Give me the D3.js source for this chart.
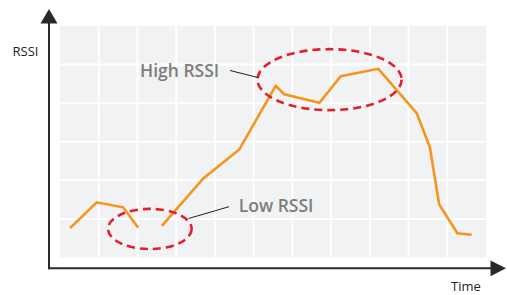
<!DOCTYPE html>
<html>
<head>
<meta charset="utf-8">
<script src="https://cdn.jsdelivr.net/npm/d3@7"></script>
<style>
  body { margin: 0; background: #fff; }
  svg { display: block; }
  text { font-family: "Open Sans", sans-serif; }
</style>
</head>
<body>
<svg width="507" height="295"></svg>
<script>
let width = 507,
    height = 295;

// time (s) and rssi (dBm), null = gap in the trace
let times = [2.6, 9.5, 16.3, 20.2, 23, 26.3, 37, 46.3, 55.7, 57.9, 67, 72.5, 82.2, 92.1, 95.5, 97.9, 102.6, 106.3];
let rssi = [-92.4, -85.7, -87.0, -92.3, null, -91.8, -79.5, -72.0, -55.5, -57.7, -59.9, -53.0, -51.1, -62.6, -71.4, -86.2, -93.7, -94.1];

let gridTimes = [10, 20, 30, 40, 50, 60, 70, 80, 90, 100];
let gridRssi = [-90, -80, -70, -60, -50];

// annotations: centre time, centre rssi, radius in time, radius in dB
let zoneLabels = ["High RSSI", "Low RSSI"];
let zoneTime = [69.6, 23.2];
let zoneRssi = [-53.9, -92.6];
let zoneRx = [18.6, 10.8];
let zoneRy = [7.9, 5.2];

let plotLeft = 60, plotRight = 486, plotTop = 26, plotBottom = 257.5;

let x = d3.scaleLinear().domain([0, 110]).range([plotLeft, plotRight]);
let y = d3.scaleLinear().domain([-100, -40]).range([plotBottom, plotTop]);

let svg = d3.select("svg");

// grid background
svg.append("rect")
    .attr("x", plotLeft)
    .attr("y", plotTop)
    .attr("width", plotRight - plotLeft)
    .attr("height", plotBottom - plotTop)
    .attr("fill", "#f1f2f3");

let grid = svg.append("g").attr("stroke", "#fff").attr("stroke-width", 2);

grid.selectAll(".vx")
    .data(gridTimes)
    .enter().append("line")
    .attr("x1", d => x(d)).attr("x2", d => x(d))
    .attr("y1", plotTop).attr("y2", plotBottom);

grid.selectAll(".hy")
    .data(gridRssi)
    .enter().append("line")
    .attr("y1", d => y(d)).attr("y2", d => y(d))
    .attr("x1", plotLeft).attr("x2", plotRight);

// signal trace
let points = times.map((t, i) => ({t: t, v: rssi[i]}));

let line = d3.line()
    .defined(d => d.v !== null)
    .x(d => x(d.t))
    .y(d => y(d.v));

svg.append("path")
    .datum(points)
    .attr("d", line)
    .attr("fill", "none")
    .attr("stroke", "#f7941d")
    .attr("stroke-width", 2.6)
    .attr("stroke-linejoin", "miter");

// dashed zones
let zones = zoneLabels.map((l, i) => ({
    label: l, t: zoneTime[i], v: zoneRssi[i], rx: zoneRx[i], ry: zoneRy[i]
}));

svg.selectAll(".zone")
    .data(zones)
    .enter().append("ellipse")
    .attr("cx", d => x(d.t))
    .attr("cy", d => y(d.v))
    .attr("rx", d => x(d.rx) - x(0))
    .attr("ry", d => y(-100) - y(-100 + d.ry))
    .attr("fill", "none")
    .attr("stroke", "#e2202c")
    .attr("stroke-width", 2.6)
    .attr("stroke-dasharray", "8,5");

// labels and leader lines
svg.append("line")
    .attr("x1", 230).attr("y1", 70.5)
    .attr("x2", 258.5).attr("y2", 77.7)
    .attr("stroke", "#231f20").attr("stroke-width", 1);

svg.append("line")
    .attr("x1", 229).attr("y1", 206.7)
    .attr("x2", 188.5).attr("y2", 218.5)
    .attr("stroke", "#231f20").attr("stroke-width", 1);

svg.append("text")
    .attr("x", 140).attr("y", 76.7)
    .attr("font-size", 17.5)
    .attr("font-weight", 600)
    .attr("fill", "#7d7d7d")
    .text(zoneLabels[0]);

svg.append("text")
    .attr("x", 238.7).attr("y", 212.3)
    .attr("font-size", 17.5)
    .attr("font-weight", 600)
    .attr("fill", "#7d7d7d")
    .text(zoneLabels[1]);

// axes
let axisColor = "#2b2a29";

svg.append("line")
    .attr("x1", 49).attr("y1", 20)
    .attr("x2", 49).attr("y2", 269.3)
    .attr("stroke", axisColor).attr("stroke-width", 2);

svg.append("line")
    .attr("x1", 48).attr("y1", 268.3)
    .attr("x2", 494).attr("y2", 268.3)
    .attr("stroke", axisColor).attr("stroke-width", 2);

svg.append("path")
    .attr("d", "M49,9 L57.5,23.5 L40.5,23.5 Z")
    .attr("fill", axisColor);

svg.append("path")
    .attr("d", "M506,268.3 L490.5,260.5 L490.5,276.3 Z")
    .attr("fill", axisColor);

svg.append("text")
    .attr("x", 12.5).attr("y", 56)
    .attr("font-size", 13)
    .attr("fill", "#231f20")
    .text("RSSI");

svg.append("text")
    .attr("x", 451).attr("y", 291)
    .attr("font-size", 13)
    .attr("fill", "#231f20")
    .text("Time");
</script>
</body>
</html>
